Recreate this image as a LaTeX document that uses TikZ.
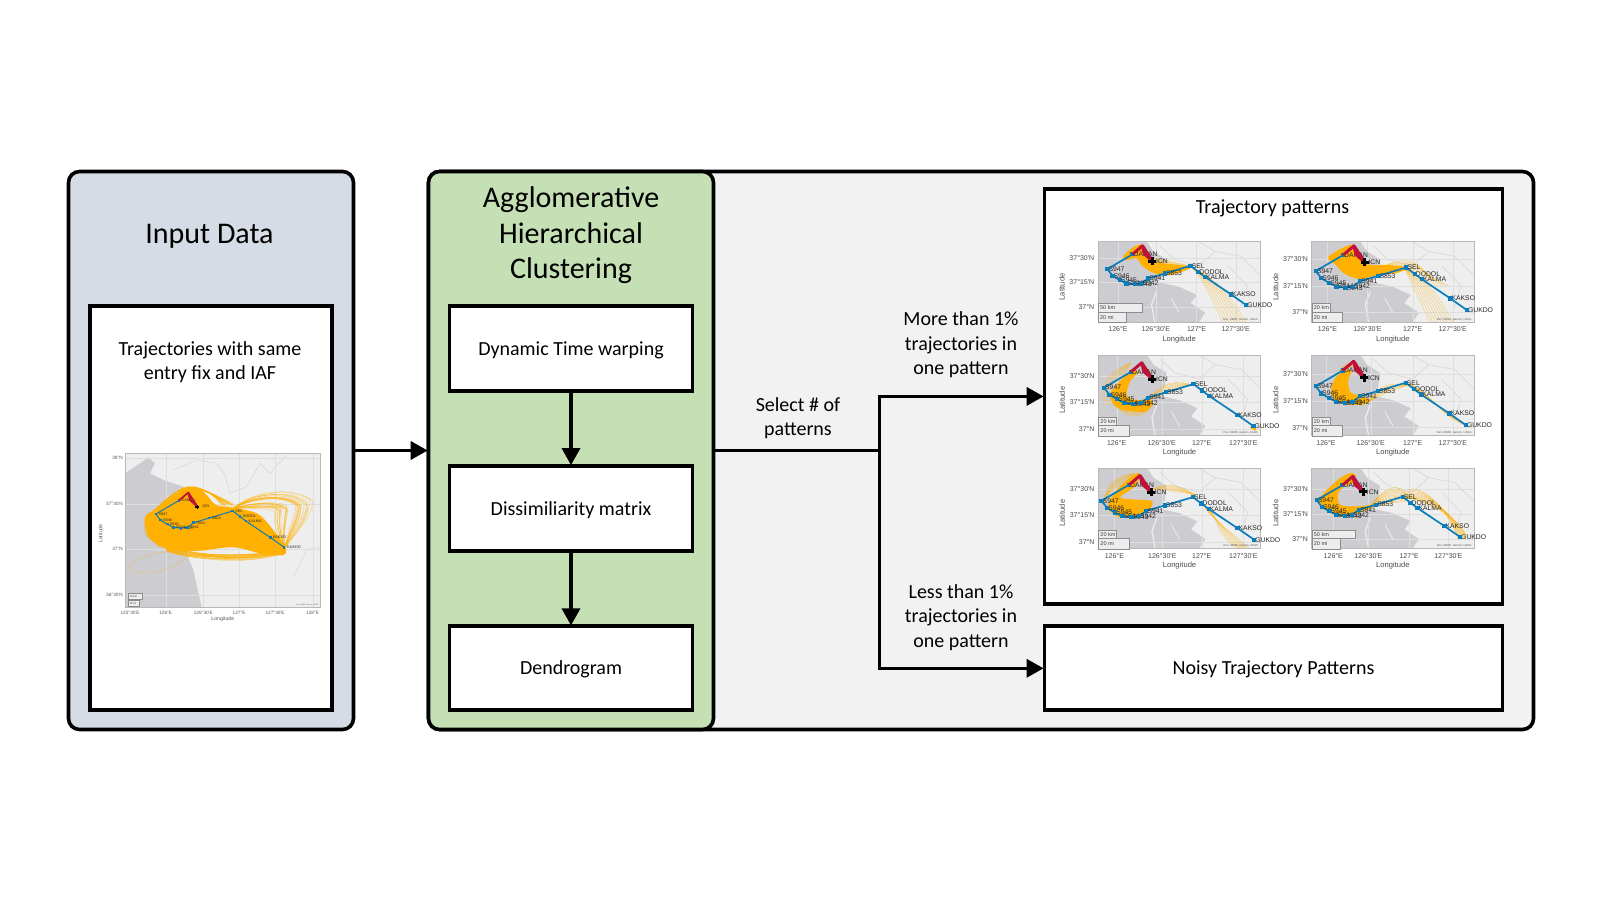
\documentclass[tikz,border=0pt]{standalone}
\usepackage{fontspec}
\setmainfont{Carlito}
\newfontfamily\mapfont{Liberation Sans}
\usetikzlibrary{arrows.meta}
\definecolor{inputfill}{HTML}{D6DCE5}
\definecolor{clusterfill}{HTML}{C5E0B4}
\definecolor{backfill}{HTML}{F2F2F2}
\definecolor{maplight}{HTML}{EEEEEE}
\definecolor{mapdark}{HTML}{CDCDD1}
\definecolor{maproad}{HTML}{D6D6D6}
\definecolor{trackorange}{HTML}{FFB000}
\definecolor{routeblue}{HTML}{0B7DBB}
\definecolor{routered}{HTML}{BE1238}
\tikzset{
  panel/.style={draw=black,line width=3.6pt,rounded corners=11pt,inner sep=0pt},
  box/.style={draw=black,line width=3.8pt,fill=white,inner sep=0pt,align=center,text height=18pt,text depth=5pt,font=\fontsize{20}{24.5}\selectfont},
  title/.style={align=center,font=\fontsize{30}{35.5}\selectfont,inner sep=0pt},
  label/.style={align=center,font=\fontsize{20}{24.5}\selectfont,inner sep=0pt},
  wire/.style={line width=3.4pt,draw=black},
  arrowwire/.style={wire,-{Triangle[length=17pt,width=18pt]},shorten >=-1pt},
  fan/.style={draw=trackorange,line width=.35pt,opacity=.6},
  wpline/.style={draw=routeblue,line width=1.7pt,line join=round},
  redline/.style={draw=routered,fill=routered,line width=3pt,line join=round},
  wpmark/.style={fill=routeblue,inner sep=0pt,minimum size=4.2pt},
  wptxt/.style={font=\mapfont\fontsize{6.8}{7}\selectfont,text=black!85,inner sep=0pt,anchor=west,xshift=1pt},
  crossbar/.style={fill=black,inner sep=0pt},
  tick/.style={font=\mapfont\fontsize{7}{8}\selectfont,text=black!70,inner sep=0pt},
  axis/.style={font=\mapfont\fontsize{7.6}{8}\selectfont,text=black!70,inner sep=0pt},
  scaletxt/.style={font=\mapfont\fontsize{5.5}{6}\selectfont,text=black!75,inner sep=0pt,anchor=west},
  scalebox/.style={fill=black!7,draw=black!45,line width=.4pt},
  credit/.style={font=\mapfont\fontsize{2.8}{3}\selectfont,text=black!65,inner sep=0pt,anchor=east},
  crosslen/.store in=\crosslen,crosslen=8pt,
  crossthk/.store in=\crossthk,crossthk=3pt
}
% background, land, roads and grid of a small map (unit square)
\newcommand{\smallbase}[2]{%
  \fill[maplight] (0,0) rectangle (1,1);
  \begin{scope}
  \clip (0,0) rectangle (1,1);
  \fill[mapdark] (0,0) -- (.30,0) -- (.34,.12) -- (.42,.22) -- (.41,.40) -- (.37,.50) -- (.50,.56)
     -- (.61,.66) -- (.57,.76) -- (.66,.88) -- (.62,1) -- (0,1) -- cycle;
  \draw[maplight,line width=1.2pt] (.36,.62) -- (.33,.78) -- (.35,1);
  \draw[maplight,line width=.8pt] (.45,.70) -- (.50,.88);
  \draw[maproad,line width=.6pt] (.38,.05) -- (.47,.22) -- (.62,.3) -- (.72,.12) -- (.88,.18) -- (1,.42);
  \draw[maproad,line width=.6pt] (.62,0) -- (.72,.12);
  \draw[maproad,line width=.6pt] (.8,.3) -- (.92,.55) -- (.88,.8);
  \foreach \g in {#1} \draw[black!13,line width=.3pt] (0,\g) -- (1,\g);
  \foreach \g in {#2} \draw[black!13,line width=.3pt] (\g,0) -- (\g,1);
  \end{scope}
}
\newcommand{\mapframe}{\draw[black!28,line width=.6pt] (0,0) rectangle (1,1);}
% route, waypoints and labels, placed by an affine map of the unit square
\newcommand{\routefig}[5]{%
  \begin{scope}[shift={(#3,#5)},xscale=#2,yscale=#4]
  \foreach \n/\u/\v in {1/.212/.157,2/.058/.339,3/.089/.421,4/.134/.475,5/.175/.517,6/.226/.529,7/.267/.517,8/.309/.455,9/.412/.393,10/.57/.298,11/.617/.372,12/.658/.434,13/.819/.653,14/.912/.785}
    \coordinate (#1c\n) at (\u,\v);
  \coordinate (#1apex) at (.274,.05);
  \coordinate (#1icn) at (.335,.24);
  \coordinate (#1fold) at (.285,.15);
  \draw[wpline] (#1c1) -- (#1c2) -- (#1c3) -- (#1c4) -- (#1c5) -- (#1c6) -- (#1c7) -- (#1c8) -- (#1c9) -- (#1c10) -- (#1c11) -- (#1c12) -- (#1c13) -- (#1c14);
  \foreach \n/\t in {1/DANAN,2/S947,3/S946,4/S945,5/S944,6/S943,7/S942,8/S941,9/S853,10/SEL,11/DODOL,12/KALMA,13/KAKSO,14/GUKDO}
    \node[wptxt] (#1t\n) at (#1c\n) {\t};
  \node[wptxt,xshift=2.5pt] (#1ticn) at (#1icn) {ICN};
  \foreach \n in {1,...,14} \node[wpmark] (#1p\n) at (#1c\n) {};
  \draw[redline] (#1c1) -- (#1apex);
  \draw[redline] (#1apex) -- (#1icn) -- (#1fold) -- cycle;
  \node[crossbar,minimum width=\crosslen,minimum height=\crossthk] (#1bara) at (#1icn) {};
  \node[crossbar,minimum width=\crossthk,minimum height=\crosslen] (#1barb) at (#1icn) {};
  \end{scope}
}
\newcommand{\latticks}[2]{\foreach \v/\t [count=\k] in {#2} \node[tick,anchor=east] (#1lat\k) at (-.022,\v) {\t};}
\newcommand{\lonticks}[2]{\foreach \u/\t [count=\k] in {#2} \node[tick] (#1lon\k) at (\u,1.087) {\t};}
\newcommand{\axislabels}[1]{%
  \node[axis] (#1xlab) at (.5,1.207) {Longitude};
  \node[axis,rotate=90] (#1ylab) at (-.222,.56) {Latitude};
}
% scale bars: name, km width, km text, mi width
\newcommand{\scalebars}[4]{%
  \draw[scalebox] (0,.765) rectangle (#2,.875);
  \draw[scalebox] (0,.875) rectangle (#4,1);
  \node[scaletxt] (#1km) at (.012,.82) {#3};
  \node[scaletxt] (#1mi) at (.012,.94) {20 mi};
  \node[credit] (#1cr) at (.985,.965) {Esri, HERE, Garmin, USGS};
}
\newcommand{\blob}[1]{\fill[trackorange] plot[smooth cycle,tension=.55] coordinates {#1};}
\begin{document}
\begin{tikzpicture}[x=1pt,y=-1pt]
\useasboundingbox (0,0) rectangle (1600,900);
\pgfmathsetseed{11}

% panels
\node[panel,fill=inputfill,minimum width=285pt,minimum height=558pt] (input) at (211,450.5) {};
\node[panel,fill=backfill,minimum width=1105pt,minimum height=558pt] (back) at (981,450.5) {};
\node[panel,fill=clusterfill,minimum width=285pt,minimum height=558pt] (cluster) at (571,450.5) {};

\node[title] (inputtitle) at (209.5,236) {Input Data};
\node[title] (clustertitle) at (571,235.5) {Agglomerative\\Hierarchical\\Clustering};

% boxes
\node[box,minimum width=242pt,minimum height=404pt] (inputbox) at (211,508) {};
\node[label] (inputtext) at (210,362) {Trajectories with same\\entry fix and IAF};
\node[box,minimum width=243pt,minimum height=85pt] (dtw) at (571,348.5) {Dynamic Time warping};
\node[box,minimum width=243pt,minimum height=85pt] (dis) at (571,508.5) {Dissimiliarity matrix};
\node[box,minimum width=243pt,minimum height=84pt] (den) at (571,668.3) {Dendrogram};
\node[box,minimum width=458pt,minimum height=415pt] (traj) at (1273.5,396.4) {};
\node[label] (trajtext) at (1272.5,208.5) {Trajectory patterns};
\node[box,minimum width=458pt,minimum height=84pt] (noisy) at (1273.5,668.3) {Noisy Trajectory Patterns};

% connectors
\coordinate (branch) at (879.5,450.5);
\draw[arrowwire] (input.east) -- (cluster.west);
\draw[arrowwire] (dtw.south) -- (dis.north);
\draw[arrowwire] (dis.south) -- (den.north);
\draw[wire] (cluster.east) -- (branch);
\draw[arrowwire] (branch) |- (traj.west);
\draw[arrowwire] (branch) |- (noisy.west);

\node[label] (selecttext) at (798,418) {Select \# of\\patterns};
\node[label] (moretext) at (961,345) {More than 1\%\\trajectories in\\one pattern};
\node[label] (lesstext) at (961,617.5) {Less than 1\%\\trajectories in\\one pattern};

% large map
\begin{scope}[shift={(125,453.3)},x=195.7pt,y=-154.3pt,
    wpline/.append style={line width=1pt},
    redline/.append style={line width=1.8pt},
    wpmark/.append style={minimum size=2.6pt},
    wptxt/.append style={font=\mapfont\fontsize{3.8}{4}\selectfont,xshift=1.5pt},
    tick/.append style={font=\mapfont\fontsize{4.7}{5}\selectfont,text=black!65},
    axis/.append style={font=\mapfont\fontsize{5.2}{6}\selectfont,text=black!65},
    crosslen=4pt,crossthk=1.8pt]
  \fill[maplight] (0,0) rectangle (1,1);
  \begin{scope}
    \clip (0,0) rectangle (1,1);
    \begin{scope}[x=.33333pt,y=-.33333pt,shift={(-105,-70)}]
      \fill[mapdark] (105,130) -- (150,100) -- (175,82) -- (195,100) -- (180,130) -- (220,150) -- (280,170)
        -- (340,240) -- (335,330) -- (290,370) -- (310,420) -- (335,533) -- (105,533) -- cycle;
      \draw[maproad,line width=.5pt] (380,100) -- (405,135) -- (420,190) -- (470,170) -- (510,100) -- (540,130) -- (590,75);
      \draw[maproad,line width=.5pt] (250,120) -- (320,90) -- (380,100);
      \draw[maproad,line width=.5pt] (610,440) -- (650,360) -- (692,350);
      \foreach \g in {85,222,358,495} \draw[black!13,line width=.3pt] (105,\g) -- (692,\g);
      \foreach \g in {227,340,447,555,668} \draw[black!13,line width=.3pt] (\g,70) -- (\g,533);
      \foreach \i in {1,...,30} {
        \pgfmathsetmacro\rA{rnd}\pgfmathsetmacro\rB{rnd}
        \draw[fan] (430,235) .. controls (490,{240-65*\rA}) and ({530+90*\rA},{235-70*\rA}) .. ({550+125*\rA},{235-30*\rA+20*\rB}) .. controls ({540+140*\rA},{250+30*\rB}) and ({560+50*\rA},320) .. (585,355);
      }
      \foreach \i in {1,...,30} {
        \pgfmathsetmacro\rA{rnd}\pgfmathsetmacro\rB{rnd}
        \draw[fan] (230,{350+15*\rA}) .. controls (310,{365+30*\rA}) and ({400+80*\rB},{375+45*\rB}) .. (585,{362+8*\rA});
      }
      \foreach \i in {1,...,24} {
        \pgfmathsetmacro\rA{rnd}\pgfmathsetmacro\rB{rnd}
        \draw[fan] ({185+30*\rA},{330+25*\rA}) .. controls ({140+30*\rB},{300-10*\rA}) and ({160+20*\rA},{265-10*\rB}) .. ({215+50*\rB},{220-40*\rB});
        \draw[fan] (265,183) .. controls ({295+20*\rA},{155+15*\rB}) and ({345+20*\rB},{170+15*\rA}) .. ({395+40*\rA},{220+10*\rB});
      }
      \draw[fan] (300,375) .. controls (230,345) and (120,390) .. (120,410) .. controls (125,440) and (230,440) .. (300,375);
      \blob{(165,262) (205,232) (268,183) (310,172) (345,190) (378,225) (430,233) (500,250) (540,288) (585,350) (580,375) (520,372) (430,352) (330,362) (240,360) (180,322)}
    \end{scope}
  \end{scope}
  \draw[black!28,line width=.6pt] (0,0) rectangle (1,1);
  \routefig{big}{.768}{.113}{.483}{.230}
  \draw[scalebox] (.017,.908) rectangle (.09,.945);
  \draw[scalebox] (.017,.952) rectangle (.073,.99);
  \node[scaletxt,font=\mapfont\fontsize{2.8}{3}\selectfont] (bigkm) at (.022,.927) {20 km};
  \node[scaletxt,font=\mapfont\fontsize{2.8}{3}\selectfont] (bigmi) at (.022,.971) {10 mi};
  \node[credit,font=\mapfont\fontsize{1.8}{2}\selectfont] (bigcr) at (.99,.985) {Esri, HERE, Garmin, USGS};
  \foreach \v/\t [count=\k] in {.032/38°N,.328/37°30'N,.622/37°N,.918/36°30'N}
    \node[tick,anchor=east] (biglat\k) at (-.01,\v) {\t};
  \foreach \u/\t [count=\k] in {.026/125°30'E,.208/126°E,.40/126°30'E,.583/127°E,.767/127°30'E,.959/128°E}
    \node[tick] (biglon\k) at (\u,1.035) {\t};
  \node[axis] (bigxlab) at (.5,1.075) {Longitude};
  \node[axis,rotate=90] (bigylab) at (-.125,.52) {Latitude};
\end{scope}

% row 1, column 1
\begin{scope}[shift={(1098,241.7)},x=162.4pt,y=-80.7pt]
  \smallbase{.207,.504,.806}{.123,.356,.607,.848}
  \begin{scope}\clip (0,0) rectangle (1,1);
    \foreach \i in {-4,...,4} \draw[fan] (.57,.31) .. controls ({.68+.014*\i},{.42+.01*\i}) and ({.76+.016*\i},.7) .. ({.84+.018*\i},1);
    \foreach \i in {-3,...,3} \draw[fan] (.20,.15) .. controls (.30,.2) and (.42,{.27+.02*\i}) .. (.59,.32);
    \blob{(.154,.186) (.206,.083) (.267,.033) (.288,.103) (.35,.248) (.463,.281) (.566,.31) (.545,.351) (.442,.413) (.35,.393) (.278,.31) (.237,.207) (.175,.227)}
  \end{scope}
  \mapframe
  \routefig{a}{1}{0}{1}{0}
  \scalebars{a}{.27}{50 km}{.175}
  \latticks{a}{.207/37°30'N,.504/37°15'N,.806/37°N}
  \lonticks{a}{.123/126°E,.356/126°30'E,.607/127°E,.848/127°30'E}
  \axislabels{a}
\end{scope}

% row 1, column 2
\begin{scope}[shift={(1311.7,241.7)},x=162.4pt,y=-80.7pt]
  \smallbase{.215,.545,.876}{.097,.343,.622,.868}
  \begin{scope}\clip (0,0) rectangle (1,1);
    \foreach \i in {-4,...,4} \draw[fan] (.57,.33) .. controls ({.66+.014*\i},.45) and ({.72+.016*\i},.7) .. ({.80+.018*\i},1);
    \foreach \i in {-3,...,3} \draw[fan] (.45,.30) .. controls (.55,{.25+.02*\i}) and (.70,{.28+.03*\i}) .. ({.78+.02*\i},.55);
    \blob{(.103,.186) (.236,.041) (.287,.132) (.338,.277) (.462,.289) (.587,.318) (.525,.388) (.402,.413) (.298,.463) (.205,.401) (.144,.277)}
  \end{scope}
  \mapframe
  \routefig{b}{1.089}{-.038}{1.084}{-.004}
  \scalebars{b}{.113}{20 km}{.19}
  \latticks{b}{.215/37°30'N,.545/37°15'N,.876/37°N}
  \lonticks{b}{.097/126°E,.343/126°30'E,.622/127°E,.868/127°30'E}
  \axislabels{b}
\end{scope}

% row 2, column 1
\begin{scope}[shift={(1098.3,355)},x=162.4pt,y=-80.7pt]
  \smallbase{.256,.587,.917}{.113,.39,.637,.893}
  \begin{scope}\clip (0,0) rectangle (1,1);
    \foreach \i in {-3,...,3} {
      \draw[fan] (.2,.1) .. controls ({.1+.02*\i},{.25+.01*\i}) and ({.03+.01*\i},.4) .. ({.08+.015*\i},.62);
      \draw[fan] (.3,.58) .. controls (.40,{.38+.03*\i}) and (.48,{.36+.01*\i}) .. (.59,.37);
      \draw[fan] (.12,.64) .. controls (.18,{.74+.02*\i}) and (.28,{.74+.02*\i}) .. (.34,.6);
    }
    \blob{(.195,.207) (.133,.331) (.072,.496) (.123,.661) (.287,.702) (.329,.558) (.226,.558) (.175,.496) (.195,.331) (.246,.207)}
    \fill[trackorange] (.93,.9) -- (.97,.88) -- (.97,.94) -- cycle;
  \end{scope}
  \mapframe
  \routefig{c}{1.077}{-.0275}{1.068}{.042}
  \scalebars{c}{.113}{20 km}{.19}
  \latticks{c}{.256/37°30'N,.587/37°15'N,.917/37°N}
  \lonticks{c}{.113/126°E,.39/126°30'E,.637/127°E,.893/127°30'E}
  \axislabels{c}
\end{scope}

% row 2, column 2
\begin{scope}[shift={(1311.7,355)},x=162.4pt,y=-80.7pt]
  \smallbase{.24,.57,.9}{.088,.363,.622,.869}
  \begin{scope}\clip (0,0) rectangle (1,1);
    \foreach \i in {-3,...,3} {
      \draw[fan] (.17,.2) .. controls (.22,{.1+.01*\i}) and (.27,{.1+.01*\i}) .. (.28,.2);
      \draw[fan] (.35,.58) .. controls (.45,{.38+.03*\i}) and (.52,{.40+.01*\i}) .. (.59,.37);
      \draw[fan] (.6,.36) .. controls ({.72+.015*\i},.5) and ({.80-.015*\i},.72) .. (.96,.88);
    }
    \blob{(.185,.207) (.133,.331) (.123,.496) (.185,.599) (.298,.62) (.36,.558) (.287,.496) (.236,.455) (.226,.31) (.246,.186)}
  \end{scope}
  \mapframe
  \routefig{d}{1.082}{-.038}{1.077}{.0225}
  \scalebars{d}{.113}{20 km}{.19}
  \latticks{d}{.24/37°30'N,.57/37°15'N,.9/37°N}
  \lonticks{d}{.088/126°E,.363/126°30'E,.622/127°E,.869/127°30'E}
  \axislabels{d}
\end{scope}

% row 3, column 1
\begin{scope}[shift={(1098.3,468)},x=162.4pt,y=-80.7pt]
  \smallbase{.256,.587,.917}{.099,.394,.637,.893}
  \begin{scope}\clip (0,0) rectangle (1,1);
    \foreach \i in {-3,...,3} {
      \draw[fan] (.34,.26) .. controls (.42,{.22+.02*\i}) and (.52,{.26+.01*\i}) .. (.60,.34);
      \draw[fan] (.66,.5) .. controls (.74,{.62+.03*\i}) and ({.78+.025*\i},.85) .. ({.90+.01*\i},1);
      \draw[fan] (.04,.42) .. controls (.04,.3) and ({.1+.01*\i},{.16+.02*\i}) .. (.22,.07);
    }
    \blob{(.09,.33) (.175,.15) (.25,.06) (.23,.22) (.135,.36) (.22,.39) (.33,.41) (.31,.52) (.22,.60) (.13,.61) (.06,.5)}
  \end{scope}
  \mapframe
  \routefig{e}{1.1}{-.044}{1.083}{.038}
  \scalebars{e}{.113}{20 km}{.19}
  \latticks{e}{.256/37°30'N,.587/37°15'N,.917/37°N}
  \lonticks{e}{.099/126°E,.394/126°30'E,.637/127°E,.893/127°30'E}
  \axislabels{e}
\end{scope}

% row 3, column 2
\begin{scope}[shift={(1311.7,468)},x=162.4pt,y=-80.7pt]
  \smallbase{.256,.566,.88}{.133,.349,.6,.842}
  \begin{scope}\clip (0,0) rectangle (1,1);
    \foreach \i in {-6,...,6} {
      \draw[fan] (.36,.47) .. controls (.45,{.35+.02*\i}) and (.52,{.30+.018*\i}) .. (.58,{.36+.01*\i});
      \draw[fan] (.58,.36) .. controls ({.70+.02*\i},{.30+.03*\i}) and ({.86+.012*\i},{.52+.035*\i}) .. ({.93+.005*\i},.86);
    }
    \blob{(.051,.37) (.175,.124) (.257,.062) (.267,.165) (.205,.227) (.164,.31) (.175,.455) (.277,.475) (.4,.455) (.287,.558) (.175,.6) (.072,.496)}
  \end{scope}
  \mapframe
  \routefig{f}{1.033}{-.029}{1.024}{.051}
  \scalebars{f}{.27}{50 km}{.175}
  \latticks{f}{.256/37°30'N,.566/37°15'N,.88/37°N}
  \lonticks{f}{.133/126°E,.349/126°30'E,.6/127°E,.842/127°30'E}
  \axislabels{f}
\end{scope}
\end{tikzpicture}
\end{document}
